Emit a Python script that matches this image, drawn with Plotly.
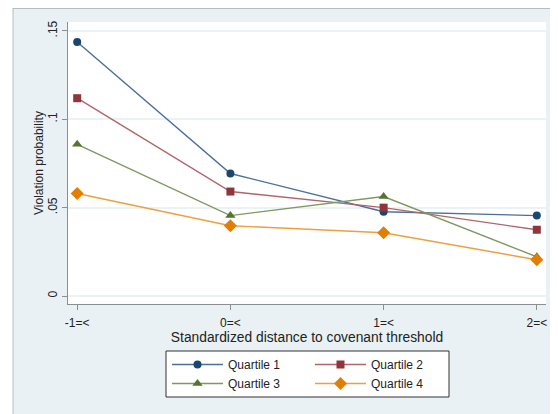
import plotly.graph_objects as go

categories = ["-1=<", "0=<", "1=<", "2=<"]
x_pos = [-1, 0, 1, 2]
q1 = [0.1437, 0.0693, 0.0477, 0.0455]
q2 = [0.1119, 0.0591, 0.0500, 0.0375]
q3 = [0.0858, 0.0455, 0.0563, 0.0222]
q4 = [0.0580, 0.0398, 0.0358, 0.0205]
y_ticks = [0, 0.05, 0.1, 0.15]
y_tick_labels = ["0", ".05", ".1", ".15"]

# The page body adds an 8px margin, so the figure is 8px smaller and offset.
OFF = 8
W, H = 558 - OFF, 414 - OFF
L, R, T, B = 60, 12, 14, 110
PW, PH = W - L - R, H - T - B

def px_x(p):
    # p in reference image pixels
    return (p - OFF - L) / PW

def px_y(p):
    return 1 - (p - OFF - T) / PH

series = [
    ("Quartile 1", q1, "#1a476f", "#4d7096", "circle", 8, "legend"),
    ("Quartile 2", q2, "#90353b", "#b0656a", "square", 8, "legend2"),
    ("Quartile 3", q3, "#55752f", "#7d9860", "triangle-up", 9, "legend"),
    ("Quartile 4", q4, "#e37e00", "#eda040", "diamond", 10, "legend2"),
]

fig = go.Figure()
for name, vals, mcol, lcol, sym, ms, lg in series:
    fig.add_trace(go.Scatter(
        x=x_pos, y=vals, name=name, mode="lines+markers",
        line=dict(color=lcol, width=1.4),
        marker=dict(color=mcol, symbol=sym, size=ms, line=dict(width=0)),
        legend=lg,
    ))

bg = "#e9f1f4"
font = dict(family="Liberation Sans, Arial, sans-serif", size=12, color="#222222")
xtitle_font = dict(family="Liberation Sans, Arial, sans-serif", size=13.8, color="#222222")

shapes = [
    dict(type="rect", xref="paper", yref="paper", x0=px_x(0), x1=px_x(13), y0=px_y(0), y1=px_y(430),
         fillcolor="white", line=dict(width=0), layer="below"),
    dict(type="line", xref="paper", yref="paper", x0=px_x(13), x1=px_x(570), y0=px_y(8.5), y1=px_y(8.5),
         line=dict(color="#b8bcbe", width=1)),
    dict(type="line", xref="paper", yref="paper", x0=px_x(13), x1=px_x(13), y0=px_y(8), y1=px_y(430),
         line=dict(color="#b8bcbe", width=1)),
    dict(type="rect", xref="paper", yref="paper", x0=px_x(166), x1=px_x(449), y0=px_y(351), y1=px_y(397),
         fillcolor="white", line=dict(color="#333333", width=1), layer="below"),
]

fig.update_layout(
    width=W, height=H,
    margin=dict(l=L, r=R, t=T, b=B, autoexpand=False),
    paper_bgcolor=bg, plot_bgcolor="white",
    font=font,
    shapes=shapes,
    xaxis=dict(
        range=[-1.06, 2.06], tickvals=x_pos, ticktext=categories, automargin=False,
        showgrid=False, zeroline=False, showline=True, linecolor="#8a8f92", linewidth=1,
        ticks="outside", ticklen=5, tickcolor="#8a8f92", ticklabelstandoff=3,
        title=dict(text="Standardized distance to covenant threshold", standoff=1, font=xtitle_font),
        tickfont=font,
    ),
    yaxis=dict(
        range=[-0.0045, 0.155], tickvals=y_ticks, ticktext=y_tick_labels, tickangle=-90,
        automargin=False,
        showgrid=True, gridcolor="#eaf2f4", gridwidth=1.5, zeroline=False,
        showline=True, linecolor="#8a8f92", linewidth=1,
        ticks="outside", ticklen=5, tickcolor="#8a8f92",
        title=dict(text="Violation probability", standoff=0, font=font),
        tickfont=font,
    ),
    legend=dict(x=px_x(167), y=px_y(350), xanchor="left", yanchor="top",
                bgcolor="rgba(0,0,0,0)", borderwidth=0, itemwidth=51,
                font=font, tracegroupgap=0),
    legend2=dict(x=px_x(310), y=px_y(350), xanchor="left", yanchor="top",
                 bgcolor="rgba(0,0,0,0)", borderwidth=0, itemwidth=51,
                 font=font, tracegroupgap=0),
)

fig.write_html("out.html")
